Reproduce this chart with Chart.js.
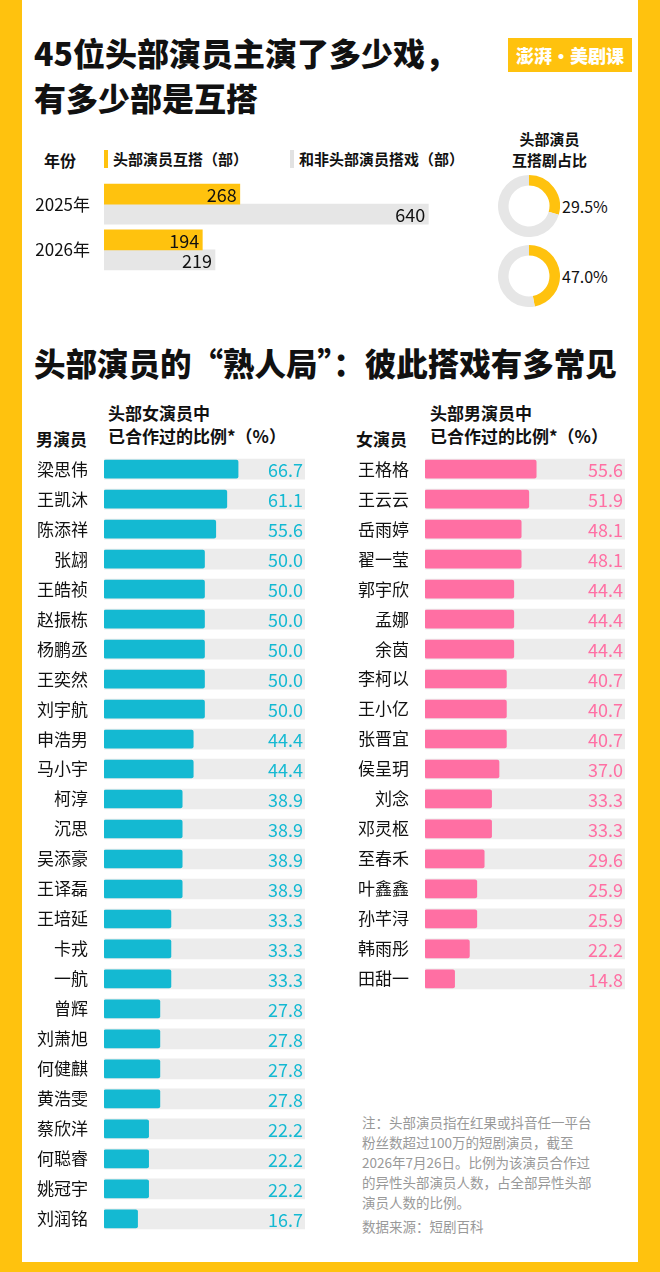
<!DOCTYPE html>
<html><head><meta charset="utf-8">
<script src="https://cdn.jsdelivr.net/npm/chart.js@4"></script>
<style>
body{margin:0;background:#FFC20E;font-family:"Noto Sans CJK SC","Noto Sans",sans-serif;}
#page{position:absolute;left:22px;top:0;width:616px;height:1262px;background:#fff;}
.t{position:absolute;color:#111;white-space:nowrap;}
.box{position:absolute;}
</style></head><body>
<div id="page"></div>
<div class="t" style="left:34px;top:30px;font-size:32px;font-weight:900;line-height:45px">45位头部演员主演了多少戏，<br>有多少部是互搭</div>
<div class="t" style="left:508px;top:38px;width:124px;height:34px;background:#FFC20E;color:#fff;font-size:18px;font-weight:900;line-height:34px;text-align:center">澎湃·美剧课</div>
<div class="t" style="left:44px;top:148px;font-size:16px;font-weight:700">年份</div>
<div class="t" style="left:104px;top:150px;width:4px;height:18px;background:#FFC20E"></div>
<div class="t" style="left:113px;top:148px;font-size:15px;font-weight:700">头部演员互搭（部）</div>
<div class="t" style="left:290px;top:150px;width:4px;height:18px;background:#e2e2e2"></div>
<div class="t" style="left:299px;top:148px;font-size:15px;font-weight:700">和非头部演员搭戏（部）</div>
<div class="t" style="left:512px;top:128px;font-size:15px;font-weight:700;line-height:21px;text-align:center">头部演员<br>互搭剧占比</div>
<div class="t" style="left:34px;top:339px;font-size:31.5px;font-weight:900">头部演员的“熟人局”：彼此搭戏有多常见</div>
<div class="t" style="left:36px;top:426px;font-size:17px;font-weight:700">男演员</div>
<div class="t" style="left:108px;top:401px;font-size:17px;font-weight:700;line-height:23px">头部女演员中<br>已合作过的比例*（%）</div>
<div class="t" style="left:356px;top:426px;font-size:17px;font-weight:700">女演员</div>
<div class="t" style="left:430px;top:401px;font-size:17px;font-weight:700;line-height:23px">头部男演员中<br>已合作过的比例*（%）</div>
<div class="t" style="left:362px;top:1112px;font-size:13.5px;color:#999;line-height:20px">注：头部演员指在红果或抖音任一平台<br>粉丝数超过100万的短剧演员，截至<br>2026年7月26日。比例为该演员合作过<br>的异性头部演员人数，占全部异性头部<br>演员人数的比例。</div>
<div class="t" style="left:362px;top:1216px;font-size:13.5px;color:#999">数据来源：短剧百科</div>

<div class="box" style="left:22px;top:165px;width:418px;height:124px"><canvas id="top"></canvas></div>
<div class="box" style="left:498px;top:175px;width:62px;height:62px"><canvas id="d1"></canvas></div>
<div class="box" style="left:498px;top:245px;width:62px;height:62px"><canvas id="d2"></canvas></div>
<div class="box" style="left:22px;top:436px;width:283px;height:816px"><canvas id="men"></canvas></div>
<div class="box" style="left:340px;top:436px;width:285px;height:576px"><canvas id="women"></canvas></div>

<script>
const years = ['2025年', '2026年'];
const mutual = [268, 194];
const withOthers = [640, 219];
const mutualShare = [29.5, 47.0];

const menNames = ['梁思伟','王凯沐','陈添祥','张翃','王皓祯','赵振栋','杨鹏丞','王奕然','刘宇航','申浩男','马小宇','柯淳','沉思','吴添豪','王译磊','王培延','卡戎','一航','曾辉','刘萧旭','何健麒','黄浩雯','蔡欣洋','何聪睿','姚冠宇','刘润铭'];
const menPct = [66.7,61.1,55.6,50.0,50.0,50.0,50.0,50.0,50.0,44.4,44.4,38.9,38.9,38.9,38.9,33.3,33.3,33.3,27.8,27.8,27.8,27.8,22.2,22.2,22.2,16.7];
const womenNames = ['王格格','王云云','岳雨婷','翟一莹','郭宇欣','孟娜','余茵','李柯以','王小亿','张晋宜','侯呈玥','刘念','邓灵枢','至春禾','叶鑫鑫','孙芊浔','韩雨彤','田甜一'];
const womenPct = [55.6,51.9,48.1,48.1,44.4,44.4,44.4,40.7,40.7,40.7,37.0,33.3,33.3,29.6,25.9,25.9,22.2,14.8];

const YELLOW = '#FFC20E', GREY = '#e6e6e6', CYAN = '#14B9D2', PINK = '#FF6FA3';
const FONT = '"Noto Sans CJK SC","Noto Sans",sans-serif';
Chart.defaults.font.family = FONT;
Chart.defaults.animation = false;
Chart.defaults.maintainAspectRatio = false;

// draws the value at the right end of the bar (or track)
function valueLabels(color, atTrack) {
  return {
    id: 'vals',
    afterDatasetsDraw(chart) {
      const ctx = chart.ctx;
      ctx.save();
      ctx.font = '18px ' + FONT;
      ctx.textAlign = 'right';
      ctx.textBaseline = 'middle';
      chart.data.datasets.forEach((ds, i) => {
        if (ds.noLabel) return;
        chart.getDatasetMeta(i).data.forEach((bar, j) => {
          const x = atTrack ? chart.scales.x.getPixelForValue(100) - 2 : bar.x - 3;
          ctx.fillStyle = color;
          ctx.fillText(atTrack ? ds.data[j].toFixed(1) : ds.data[j], x, bar.y + 1);
        });
      });
      ctx.restore();
    }
  };
}

new Chart(document.getElementById('top'), {
  type: 'bar',
  data: { labels: years, datasets: [
    { data: mutual, backgroundColor: YELLOW, barThickness: 20 },
    { data: withOthers, backgroundColor: GREY, barThickness: 20 }
  ]},
  options: {
    indexAxis: 'y',
    layout: { padding: 0 },
    datasets: { bar: { categoryPercentage: 0.7, barPercentage: 1 } },
    plugins: { legend: { display: false }, tooltip: { enabled: false } },
    scales: {
      x: { display: false, min: 0, max: 663 },
      y: { grid: { display: false }, border: { display: false },
           ticks: { color: '#111', font: { size: 17 }, padding: 6 },
           afterFit(s) { s.width = 82; } }
    }
  },
  plugins: [valueLabels('#111', false)]
});

function donut(id, v) {
  new Chart(document.getElementById(id), {
    type: 'doughnut',
    data: { datasets: [{ data: [v, 100 - v], backgroundColor: [YELLOW, GREY], borderWidth: 0 }] },
    options: { cutout: '66%', plugins: { legend: { display: false }, tooltip: { enabled: false } } }
  });
}
donut('d1', mutualShare[0]);
donut('d2', mutualShare[1]);
mutualShare.forEach((v, i) => {
  const d = document.createElement('div');
  d.className = 't';
  d.style.cssText = 'left:562px;top:' + (194 + i * 70) + 'px;font-size:16px';
  d.textContent = v.toFixed(1) + '%';
  document.body.appendChild(d);
});

function ranking(id, names, values, color, yWidth) {
  new Chart(document.getElementById(id), {
    type: 'bar',
    data: { labels: names, datasets: [
      { data: values, backgroundColor: color, barThickness: 18, borderRadius: 2, borderSkipped: false },
      { data: names.map(() => 100), backgroundColor: '#ececec', barThickness: 20, noLabel: true }
    ]},
    options: {
      indexAxis: 'y',
      layout: { padding: 0 },
      datasets: { bar: { grouped: false } },
      plugins: { legend: { display: false }, tooltip: { enabled: false } },
      scales: {
        x: { display: false, min: 0, max: 100 },
        y: { grid: { display: false }, border: { display: false },
             ticks: { color: '#111', font: { size: 17 }, padding: 8 },
             afterFit(s) { s.width = yWidth; } }
      }
    },
    plugins: [valueLabels(color, true)]
  });
}
ranking('men', menNames, menPct, CYAN, 82);
ranking('women', womenNames, womenPct, PINK, 85);
</script>
</body></html>
